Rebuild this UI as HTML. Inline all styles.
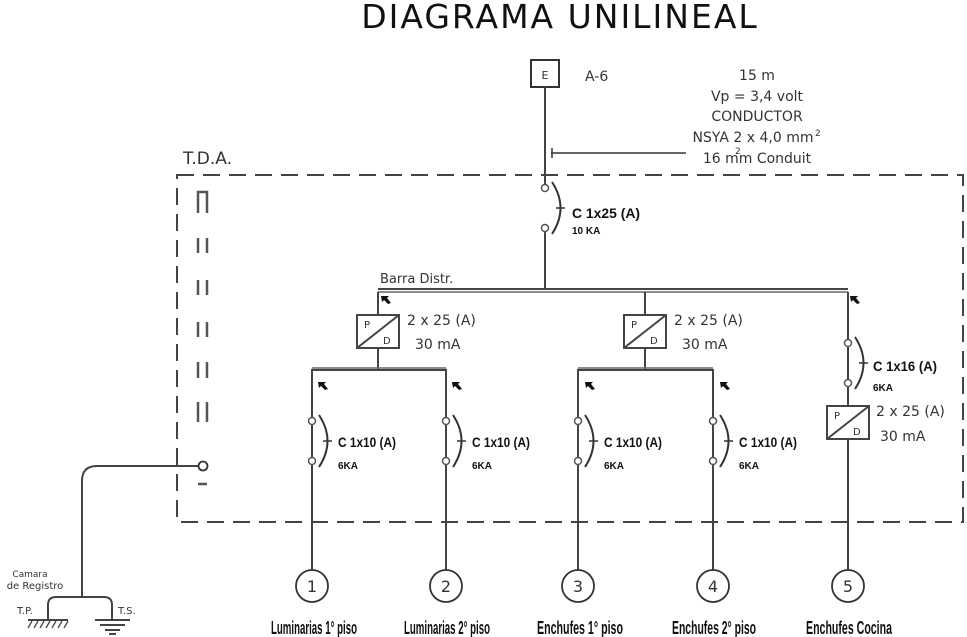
<!DOCTYPE html>
<html><head><meta charset="utf-8"><style>
html,body{margin:0;padding:0;background:#fff;}
svg{display:block;}
text{font-family:"DejaVu Sans","Liberation Sans",sans-serif;fill:#333;}
.n{font-family:"Liberation Sans Narrow","Liberation Sans",sans-serif;font-weight:bold;fill:#111;}
</style></head><body>
<svg width="967" height="637" viewBox="0 0 967 637" xmlns="http://www.w3.org/2000/svg">
<defs>
<g id="brk">
<circle cx="0" cy="0" r="3.5" fill="#fff" stroke="#555" stroke-width="1.5"/>
<circle cx="0" cy="40" r="3.5" fill="#fff" stroke="#555" stroke-width="1.5"/>
<path d="M7,-6 Q24,20 7,46" fill="none" stroke="#333" stroke-width="2"/>
<line x1="11" y1="20" x2="20" y2="20" stroke="#333" stroke-width="1.5"/>
</g>
<g id="rcd">
<rect x="-21" y="0" width="42" height="33" fill="#fff" stroke="#444" stroke-width="2"/>
<line x1="-21" y1="33" x2="21" y2="0" stroke="#444" stroke-width="2"/>
<text x="-14" y="13" font-size="10">P</text>
<text x="5" y="29" font-size="10">D</text>
</g>
<path id="arr" d="M0,0 L8,0 L6,2 L10,7 L7,8 L3,4 L1,6 Z" fill="#111"/>
</defs>

<text x="560" y="28" font-size="33" text-anchor="middle" letter-spacing="2" style="fill:#111">DIAGRAMA UNILINEAL</text>

<!-- E box -->
<rect x="531" y="60" width="28" height="27" fill="#fff" stroke="#333" stroke-width="2"/>
<text x="545" y="79" font-size="11" text-anchor="middle">E</text>
<text x="585" y="81" font-size="14">A-6</text>
<g font-size="14" text-anchor="middle">
<text x="757" y="80">15 m</text>
<text x="757" y="101">Vp = 3,4 volt</text>
<text x="757" y="121">CONDUCTOR</text>
<text x="753" y="142">NSYA 2 x 4,0 mm</text>
<text x="757" y="163">16 mm   Conduit</text>
</g>
<text x="815" y="136" font-size="9" text-anchor="start">2</text>
<text x="735" y="154" font-size="9" text-anchor="start">2</text>
<line x1="551" y1="153" x2="686" y2="153" stroke="#333" stroke-width="1.5"/>
<line x1="552" y1="148" x2="552" y2="158" stroke="#333" stroke-width="1.5"/>
<line x1="545" y1="87" x2="545" y2="185" stroke="#444" stroke-width="2"/>

<!-- dashed box -->
<text x="183" y="164" font-size="17">T.D.A.</text>
<rect x="177" y="175" width="786" height="347" fill="none" stroke="#444" stroke-width="2" stroke-dasharray="17,9"/>

<!-- left symbols -->
<g stroke="#555" stroke-width="2.5" fill="none">
<path d="M198,213 V192 H207 V213"/>
<path d="M198,238 V253 M207,238 V253"/>
<path d="M198,280 V295 M207,280 V295"/>
<path d="M198,322 V337 M207,322 V337"/>
<path d="M198,362 V378 M207,362 V378"/>
<path d="M198,402 V422 M207,402 V422"/>
<line x1="198" y1="484" x2="207" y2="484"/>
</g>
<circle cx="203" cy="466" r="4.5" fill="#fff" stroke="#333" stroke-width="1.8"/>
<path d="M198,466 H97 Q82,466 82,481 V597" fill="none" stroke="#444" stroke-width="2"/>
<path d="M48,620 V605 Q48,597 56,597 H104 Q112,597 112,605 V620" fill="none" stroke="#444" stroke-width="2"/>
<g stroke="#444" stroke-width="2">
<line x1="28" y1="620" x2="68" y2="620"/>
<line x1="95" y1="620" x2="130" y2="620"/>
<line x1="100" y1="625" x2="125" y2="625"/>
<line x1="105" y1="630" x2="120" y2="630"/>
<line x1="109" y1="634" x2="116" y2="634"/>
</g>
<g stroke="#444" stroke-width="1.3">
<line x1="28" y1="628" x2="32" y2="621"/><line x1="34" y1="628" x2="38" y2="621"/><line x1="40" y1="628" x2="44" y2="621"/><line x1="46" y1="628" x2="50" y2="621"/><line x1="52" y1="628" x2="56" y2="621"/><line x1="58" y1="628" x2="62" y2="621"/><line x1="64" y1="628" x2="68" y2="621"/>
</g>
<text x="30" y="577" font-size="9" text-anchor="middle">Camara</text>
<text x="35" y="589" font-size="10" text-anchor="middle">de Registro</text>
<text x="17" y="614" font-size="10">T.P.</text>
<text x="118" y="614" font-size="10">T.S.</text>

<!-- main breaker -->
<use href="#brk" x="545" y="188"/>
<text x="572" y="218" font-size="14" class="n" textLength="68" lengthAdjust="spacingAndGlyphs">C 1x25 (A)</text>
<text x="572" y="234" font-size="10" class="n">10 KA</text>
<line x1="545" y1="232" x2="545" y2="290" stroke="#444" stroke-width="2"/>

<!-- bus -->
<text x="380" y="283" font-size="13">Barra Distr.</text>
<line x1="378" y1="289" x2="848" y2="289" stroke="#444" stroke-width="2"/>
<line x1="378" y1="292" x2="848" y2="292" stroke="#666" stroke-width="1.5"/>

<!-- branch 1 -->
<use href="#arr" x="381" y="296"/>
<line x1="378" y1="292" x2="378" y2="370" stroke="#444" stroke-width="2"/>
<use href="#rcd" x="378" y="315"/>
<text x="407" y="325" font-size="14">2 x 25 (A)</text>
<text x="415" y="349" font-size="14">30 mA</text>
<!-- branch 2 -->
<line x1="645" y1="292" x2="645" y2="370" stroke="#444" stroke-width="2"/>
<use href="#rcd" x="645" y="315"/>
<text x="674" y="325" font-size="14">2 x 25 (A)</text>
<text x="682" y="349" font-size="14">30 mA</text>
<!-- branch 3 -->
<use href="#arr" x="850" y="296"/>
<line x1="848" y1="292" x2="848" y2="580" stroke="#444" stroke-width="2"/>
<use href="#brk" x="848" y="343"/>
<text x="873" y="371" font-size="14" class="n" textLength="64" lengthAdjust="spacingAndGlyphs">C 1x16 (A)</text>
<text x="873" y="391" font-size="10" class="n">6KA</text>
<use href="#rcd" x="848" y="406"/>
<text x="876" y="416" font-size="14">2 x 25 (A)</text>
<text x="880" y="441" font-size="14">30 mA</text>

<!-- sub buses -->
<path d="M312,580 V370 H446 V580" fill="none" stroke="#444" stroke-width="2"/>
<path d="M578,580 V370 H713 V580" fill="none" stroke="#444" stroke-width="2"/>
<line x1="312" y1="368" x2="446" y2="368" stroke="#666" stroke-width="1.5"/>
<line x1="578" y1="368" x2="713" y2="368" stroke="#666" stroke-width="1.5"/>

<g>
<use href="#arr" x="318" y="382"/><use href="#arr" x="452" y="382"/><use href="#arr" x="585" y="382"/><use href="#arr" x="720" y="382"/>
<use href="#brk" x="312" y="421"/><use href="#brk" x="446" y="421"/><use href="#brk" x="578" y="421"/><use href="#brk" x="713" y="421"/>
</g>
<g font-size="14">
<text x="338" y="447" class="n" textLength="58" lengthAdjust="spacingAndGlyphs">C 1x10 (A)</text>
<text x="472" y="447" class="n" textLength="58" lengthAdjust="spacingAndGlyphs">C 1x10 (A)</text>
<text x="604" y="447" class="n" textLength="58" lengthAdjust="spacingAndGlyphs">C 1x10 (A)</text>
<text x="739" y="447" class="n" textLength="58" lengthAdjust="spacingAndGlyphs">C 1x10 (A)</text>
</g>
<g font-size="10">
<text x="338" y="469" class="n">6KA</text>
<text x="472" y="469" class="n">6KA</text>
<text x="604" y="469" class="n">6KA</text>
<text x="739" y="469" class="n">6KA</text>
</g>

<!-- outputs -->
<g fill="#fff" stroke="#333" stroke-width="1.8">
<circle cx="312" cy="586" r="16"/><circle cx="446" cy="586" r="16"/><circle cx="578" cy="586" r="16"/><circle cx="713" cy="586" r="16"/><circle cx="848" cy="586" r="16"/>
</g>
<g font-size="16" text-anchor="middle">
<text x="312" y="592">1</text><text x="446" y="592">2</text><text x="578" y="592">3</text><text x="713" y="592">4</text><text x="848" y="592">5</text>
</g>
<g font-size="18" text-anchor="middle">
<text x="314" y="634" class="n" textLength="86" lengthAdjust="spacingAndGlyphs">Luminarias 1° piso</text>
<text x="447" y="634" class="n" textLength="86" lengthAdjust="spacingAndGlyphs">Luminarias 2° piso</text>
<text x="580" y="634" class="n" textLength="86" lengthAdjust="spacingAndGlyphs">Enchufes 1° piso</text>
<text x="714" y="634" class="n" textLength="84" lengthAdjust="spacingAndGlyphs">Enchufes 2° piso</text>
<text x="849" y="634" class="n" textLength="86" lengthAdjust="spacingAndGlyphs">Enchufes Cocina</text>
</g>
</svg>
</body></html>
